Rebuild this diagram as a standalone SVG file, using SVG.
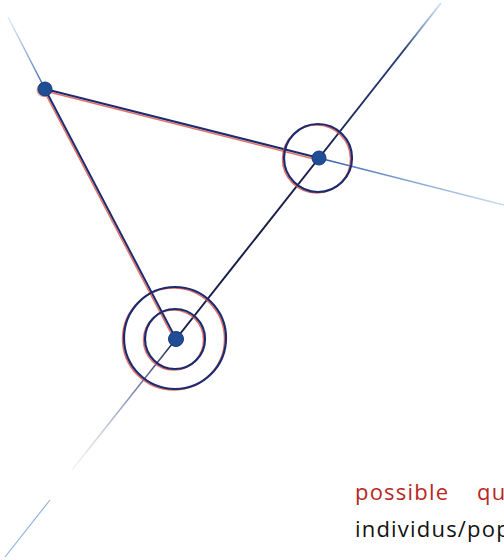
<svg xmlns="http://www.w3.org/2000/svg" width="504" height="560" viewBox="0 0 504 560">
<style>
.ln{fill:none;stroke:#1c2a6e;stroke-width:2;stroke-linecap:round}
.rd{fill:none;stroke:#e0564a;stroke-width:1.5;opacity:0.85}
.ring{fill:none;stroke:#1c2a6e;stroke-width:2.2}
.ringr{fill:none;stroke:#e0564a;stroke-width:1.5;opacity:0.85}
.dot{fill:#1f4e96;stroke:#163a78;stroke-width:1}
.t{font-family:"Open Sans","Liberation Sans",sans-serif;font-size:22px;letter-spacing:1.2px}
</style>
<defs>
<linearGradient id="gUp" gradientUnits="userSpaceOnUse" x1="45" y1="89" x2="8" y2="17">
<stop offset="0" stop-color="#2a5aa8"/><stop offset="1" stop-color="#8fb6e0" stop-opacity="0.3"/>
</linearGradient>
<linearGradient id="gRight" gradientUnits="userSpaceOnUse" x1="319" y1="158" x2="504" y2="205">
<stop offset="0" stop-color="#2a5aa8"/><stop offset="1" stop-color="#8fb6e0" stop-opacity="0.5"/>
</linearGradient>
<linearGradient id="gTop" gradientUnits="userSpaceOnUse" x1="319" y1="158" x2="441" y2="3">
<stop offset="0" stop-color="#1a1f4a"/><stop offset="0.7" stop-color="#25407a"/><stop offset="1" stop-color="#8fb6e0" stop-opacity="0.4"/>
</linearGradient>
<linearGradient id="gDown" gradientUnits="userSpaceOnUse" x1="176" y1="339" x2="72" y2="470">
<stop offset="0" stop-color="#1a1f4a"/><stop offset="0.35" stop-color="#4a5a90" stop-opacity="0.8"/><stop offset="1" stop-color="#c0c8e0" stop-opacity="0.2"/>
</linearGradient>
</defs>
<g id="connectors">
<line x1="8" y1="17" x2="45" y2="89" stroke="url(#gUp)" stroke-width="1.5"/>
<line x1="43.5" y1="90" x2="174.5" y2="340" class="rd"/>
<line x1="45" y1="89" x2="176" y2="339" class="ln"/>
<line x1="45" y1="91" x2="318" y2="160" class="rd"/>
<line x1="45" y1="89" x2="319" y2="158" class="ln" stroke="#24479a"/>
<line x1="319" y1="158" x2="504" y2="205" stroke="url(#gRight)" stroke-width="1.5"/>
<line x1="319" y1="158" x2="441" y2="3" stroke="url(#gTop)" stroke-width="2"/>
<line x1="319" y1="158" x2="176" y2="339" stroke="#1a1f4a" stroke-width="2"/>
<line x1="176" y1="339" x2="72" y2="470" stroke="url(#gDown)" stroke-width="1.5"/>
<line x1="50" y1="500" x2="5" y2="557" stroke="#8fb6e0" stroke-width="1.2"/>
</g>
<g id="node-a">
<circle cx="43.5" cy="90" r="7" fill="#e0564a" opacity="0.5"/>
<circle cx="45" cy="89" r="7" class="dot"/>
</g>
<g id="node-b">
<circle cx="316.5" cy="159" r="34" class="ringr"/>
<circle cx="318" cy="158" r="34" class="ring"/>
<circle cx="319" cy="158" r="7" class="dot"/>
</g>
<g id="node-c">
<circle cx="173.5" cy="340" r="30" class="ringr"/>
<circle cx="175" cy="339" r="30" class="ring"/>
<circle cx="173.5" cy="339" r="51" class="ringr"/>
<circle cx="175" cy="338" r="51" class="ring"/>
<circle cx="176" cy="339" r="7.5" class="dot"/>
</g>
<g id="caption">
<text x="355" y="500" class="t" fill="#b8281e">possible</text>
<text x="477" y="500" class="t" fill="#b8281e">qu</text>
<text x="355" y="537" class="t" fill="#111">individus/pop</text>
</g>
</svg>
